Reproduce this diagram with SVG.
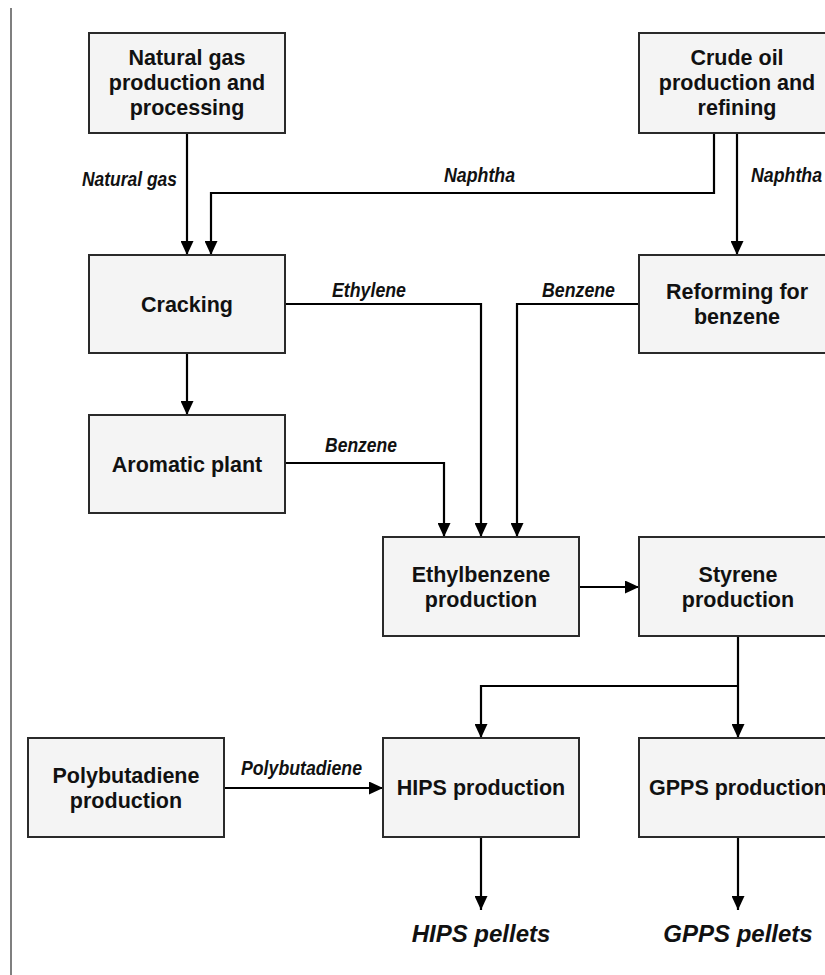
<svg xmlns="http://www.w3.org/2000/svg" width="825" height="975" viewBox="0 0 825 975">
<style>
.box{fill:#f4f4f4;stroke:#2a2a2a;stroke-width:2}
.nt{font-family:"Liberation Sans",Arial,Helvetica,sans-serif;font-weight:bold;font-size:21.5px;fill:#111;text-anchor:middle}
.lb{font-family:"Liberation Sans",Arial,Helvetica,sans-serif;font-weight:bold;font-style:italic;font-size:20.5px;fill:#111}
.out{font-family:"Liberation Sans",Arial,Helvetica,sans-serif;font-weight:bold;font-style:italic;font-size:24px;fill:#111;text-anchor:middle}
.cn{fill:none;stroke:#000;stroke-width:2.2;marker-end:url(#ah)}
</style>
<defs>
<marker id="ah" markerUnits="userSpaceOnUse" viewBox="0 0 14 13" markerWidth="14" markerHeight="13" refX="14" refY="6.5" orient="auto">
<path d="M0,0 L14,6.5 L0,13 z" fill="#000"/>
</marker>
</defs>
<rect width="825" height="975" fill="#fff"/>
<line x1="11" y1="8" x2="11" y2="975" stroke="#555" stroke-width="1.5"/>

<g id="connectors">
<path class="cn" d="M187,133 V255"/>
<path class="cn" d="M714,133 V193 H211 V255"/>
<path class="cn" d="M737,133 V255"/>
<path class="cn" d="M285,304 H481 V537"/>
<path class="cn" d="M639,304 H517 V537"/>
<path class="cn" d="M187,353 V415"/>
<path class="cn" d="M285,463 H444 V537"/>
<path class="cn" d="M579,587 H639"/>
<path class="cn" d="M738,636 V738"/>
<path class="cn" d="M738,686 H481 V738"/>
<path class="cn" d="M224,788 H383"/>
<path class="cn" d="M481,837 V910"/>
<path class="cn" d="M738,837 V910"/>
<text class="lb" x="82" y="186" textLength="95" lengthAdjust="spacingAndGlyphs">Natural gas</text>
<text class="lb" x="444" y="182" textLength="71" lengthAdjust="spacingAndGlyphs">Naphtha</text>
<text class="lb" x="751" y="182" textLength="71" lengthAdjust="spacingAndGlyphs">Naphtha</text>
<text class="lb" x="332" y="297" textLength="74" lengthAdjust="spacingAndGlyphs">Ethylene</text>
<text class="lb" x="542" y="297" textLength="73" lengthAdjust="spacingAndGlyphs">Benzene</text>
<text class="lb" x="325" y="452" textLength="72" lengthAdjust="spacingAndGlyphs">Benzene</text>
<text class="lb" x="241" y="775" textLength="121" lengthAdjust="spacingAndGlyphs">Polybutadiene</text>
</g>

<g id="natural-gas">
<rect class="box" x="89" y="33" width="196" height="100"/>
<text class="nt" x="187" y="65">Natural gas</text>
<text class="nt" x="187" y="90">production and</text>
<text class="nt" x="187" y="115">processing</text>
</g>
<g id="crude-oil">
<rect class="box" x="639" y="33" width="196" height="100"/>
<text class="nt" x="737" y="65">Crude oil</text>
<text class="nt" x="737" y="90">production and</text>
<text class="nt" x="737" y="115">refining</text>
</g>
<g id="cracking">
<rect class="box" x="89" y="255" width="196" height="98"/>
<text class="nt" x="187" y="312">Cracking</text>
</g>
<g id="reforming">
<rect class="box" x="639" y="255" width="196" height="98"/>
<text class="nt" x="737" y="299">Reforming for</text>
<text class="nt" x="737" y="324">benzene</text>
</g>
<g id="aromatic">
<rect class="box" x="89" y="415" width="196" height="98"/>
<text class="nt" x="187" y="472">Aromatic plant</text>
</g>
<g id="ethylbenzene">
<rect class="box" x="383" y="537" width="196" height="99"/>
<text class="nt" x="481" y="582">Ethylbenzene</text>
<text class="nt" x="481" y="607">production</text>
</g>
<g id="styrene">
<rect class="box" x="639" y="537" width="196" height="99"/>
<text class="nt" x="738" y="582">Styrene</text>
<text class="nt" x="738" y="607">production</text>
</g>
<g id="polybutadiene">
<rect class="box" x="28" y="738" width="196" height="99"/>
<text class="nt" x="126" y="783">Polybutadiene</text>
<text class="nt" x="126" y="808">production</text>
</g>
<g id="hips">
<rect class="box" x="383" y="738" width="196" height="99"/>
<text class="nt" x="481" y="795">HIPS production</text>
</g>
<g id="gpps">
<rect class="box" x="639" y="738" width="196" height="99"/>
<text class="nt" x="738" y="795">GPPS production</text>
</g>
<g id="hips-pellets">
<text class="out" x="481" y="942">HIPS pellets</text>
</g>
<g id="gpps-pellets">
<text class="out" x="738" y="942">GPPS pellets</text>
</g>
</svg>
